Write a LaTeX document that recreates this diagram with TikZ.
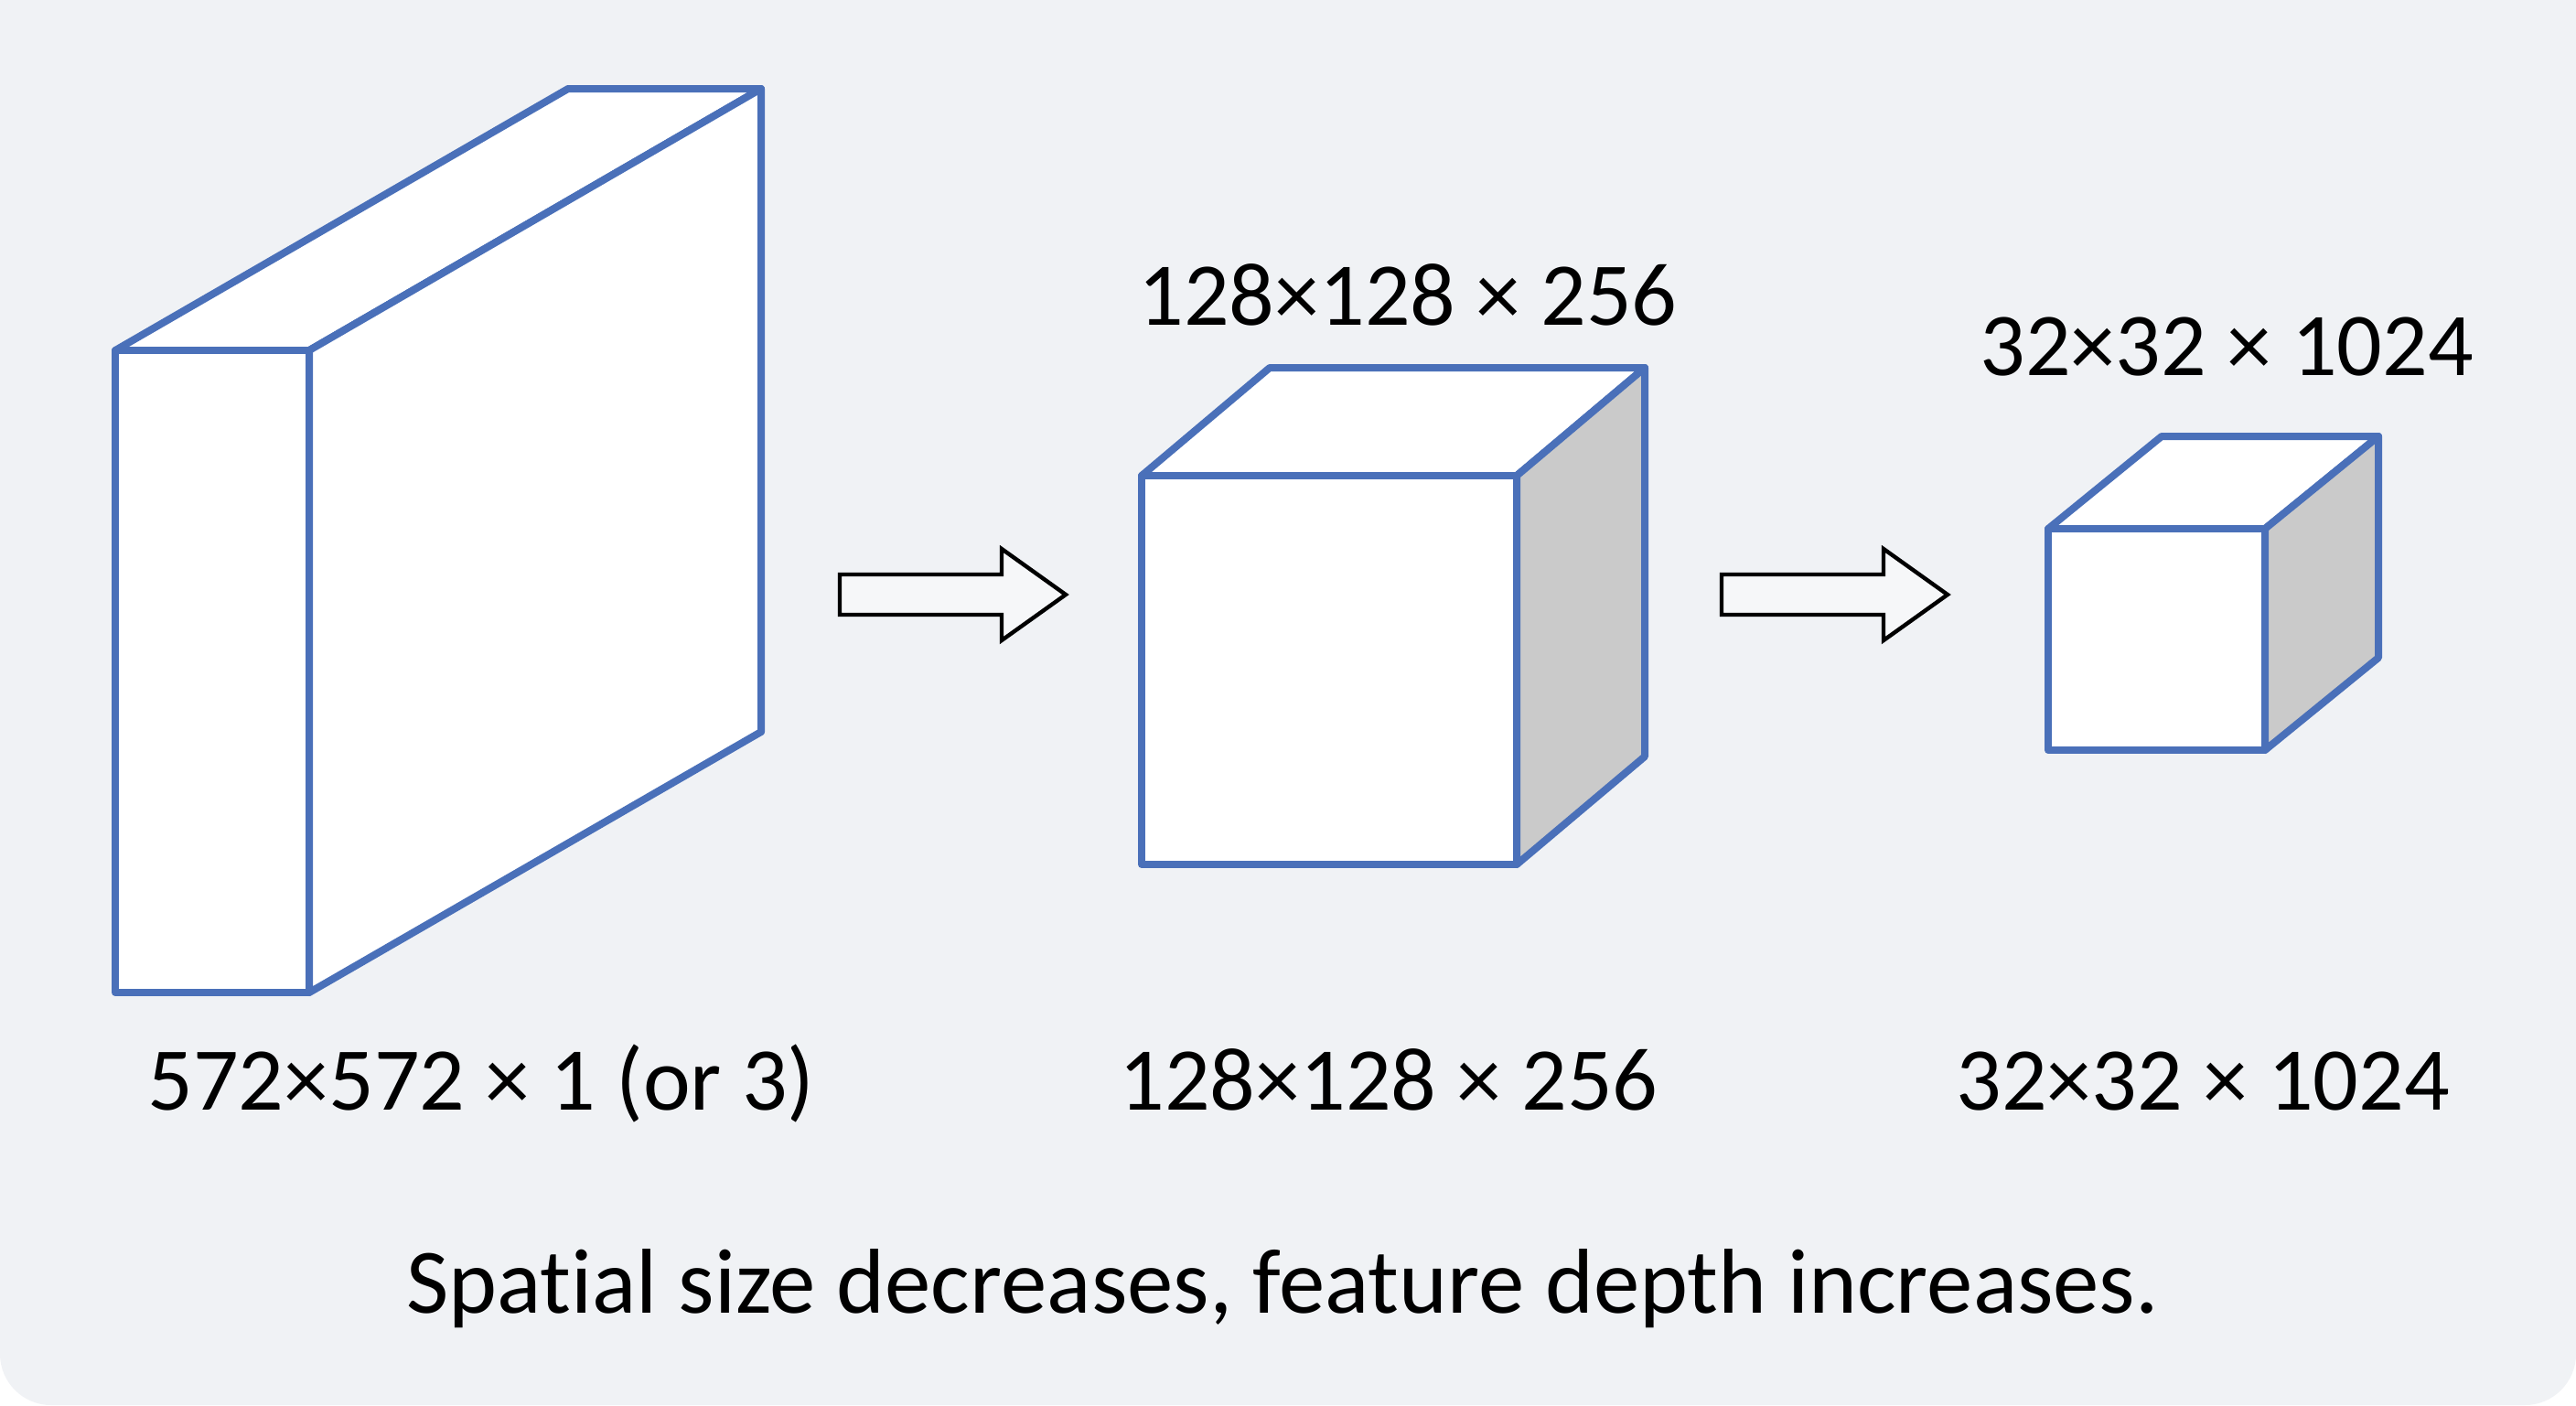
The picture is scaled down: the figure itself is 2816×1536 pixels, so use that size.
\documentclass[tikz,border=0pt]{standalone}
\usepackage{fontspec}
\setmainfont{Carlito}[Ligatures=NoCommon]
\definecolor{bg}{HTML}{F0F2F5}
\definecolor{edge}{HTML}{4A70B9}
\definecolor{side}{HTML}{CACACA}
\definecolor{arrowfill}{HTML}{F6F7F9}
\begin{document}
\begin{tikzpicture}[x=0.25pt,y=-0.25pt,
  face/.style={draw=edge, line width=2pt, line join=round, fill=white},
  sideface/.style={face, fill=side},
  lbl/.style={font=\fontsize{24.5}{30}\selectfont, anchor=base, inner sep=0pt, text=black},
  blockarrow/.style={draw=black, line width=1.1pt, fill=arrowfill, line join=miter}]
% background
\useasboundingbox (0,0) rectangle (2816,1536);
\fill[white] (0,0) rectangle (2816,1536);
\fill[bg, rounded corners=14pt] (0,0) rectangle (2816,1536);
\fill[bg] (0,0) rectangle (2816,700);

% box 1 (input)
\coordinate (a1) at (126,383);  \coordinate (b1) at (338,383);
\coordinate (c1) at (338,1085); \coordinate (d1) at (126,1085);
\coordinate (e1) at (621,97);   \coordinate (f1) at (832,97);
\coordinate (g1) at (832,800);
\draw[face] (a1) -- (e1) -- (f1) -- (b1) -- cycle;
\draw[face] (b1) -- (f1) -- (g1) -- (c1) -- cycle;
\draw[face] (a1) -- (b1) -- (c1) -- (d1) -- cycle;

% box 2
\coordinate (a2) at (1248,520); \coordinate (b2) at (1658,520);
\coordinate (c2) at (1658,945); \coordinate (d2) at (1248,945);
\coordinate (e2) at (1388,402); \coordinate (f2) at (1798,402);
\coordinate (g2) at (1798,827);
\draw[face] (a2) -- (e2) -- (f2) -- (b2) -- cycle;
\draw[sideface] (b2) -- (f2) -- (g2) -- (c2) -- cycle;
\draw[face] (a2) -- (b2) -- (c2) -- (d2) -- cycle;

% box 3
\coordinate (a3) at (2239,578); \coordinate (b3) at (2476,578);
\coordinate (c3) at (2476,820); \coordinate (d3) at (2239,820);
\coordinate (e3) at (2363,477); \coordinate (f3) at (2600,477);
\coordinate (g3) at (2600,719);
\draw[face] (a3) -- (e3) -- (f3) -- (b3) -- cycle;
\draw[sideface] (b3) -- (f3) -- (g3) -- (c3) -- cycle;
\draw[face] (a3) -- (b3) -- (c3) -- (d3) -- cycle;

% block arrows
\draw[blockarrow] (918,628) -- (1095,628) -- (1095,600) -- (1165,650) -- (1095,700) -- (1095,672) -- (918,672) -- cycle;
\draw[blockarrow] (1882,628) -- (2059,628) -- (2059,600) -- (2129,650) -- (2059,700) -- (2059,672) -- (1882,672) -- cycle;

% labels
\node[lbl] (toptwo) at (1539,355) {128×128 × 256};
\node[lbl] (topthree) at (2434,410) {32×32 × 1024};
\node[lbl] (botone) at (526,1213) {572×572 × 1 (or 3)};
\node[lbl] (bottwo) at (1518,1213) {128×128 × 256};
\node[lbl] (botthree) at (2408,1213) {32×32 × 1024};
\node[lbl, font=\fontsize{25.2}{30}\selectfont] (caption) at (1402,1435) {Spatial size decreases, feature depth increases.};
\end{tikzpicture}
\end{document}
